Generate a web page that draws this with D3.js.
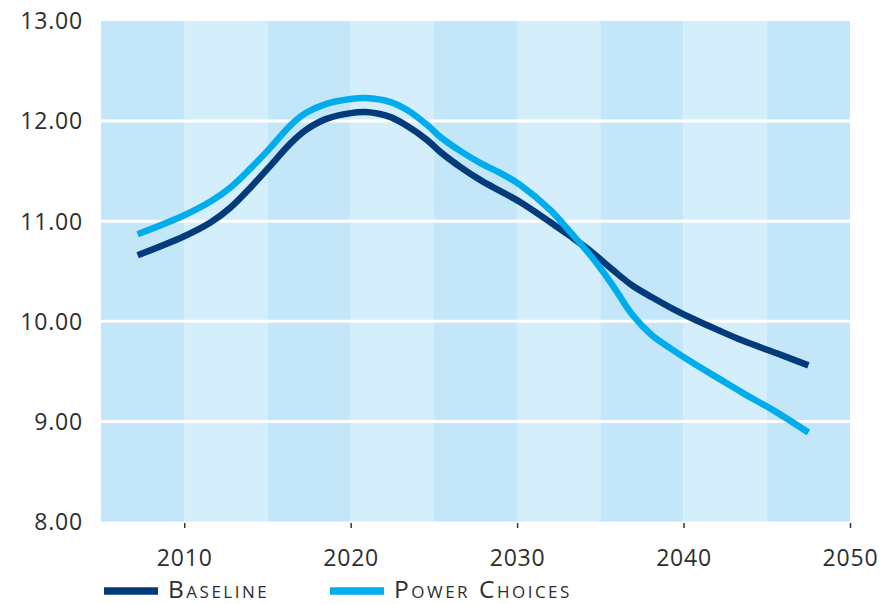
<!DOCTYPE html>
<html>
<head>
<meta charset="utf-8">
<script src="https://cdn.jsdelivr.net/npm/d3@7"></script>
<style>
  html, body { margin: 0; padding: 0; background: #ffffff; }
  svg { display: block; }
  .tick-label { font-family: "Open Sans", sans-serif; font-size: 23px; fill: #2e2e2e; letter-spacing: 0.8px; }
  .legend-label { font-family: "Open Sans", sans-serif; font-size: 24.5px; fill: #2e2e2e; font-variant: small-caps; letter-spacing: 2.5px; }
</style>
</head>
<body>
<svg id="chart" width="895" height="604"></svg>
<script>
// Sampled years along the curves
const years = [2007.2, 2010.0, 2011.6, 2012.8, 2014.0, 2015.1, 2016.4, 2017.3, 2018.5, 2020.0,
               2020.9, 2022.4, 2023.4, 2024.6, 2025.4, 2026.6, 2027.8, 2029.0, 2030.2, 2032.0,
               2033.2, 2034.5, 2035.7, 2036.9, 2038.1, 2039.3, 2040.5, 2042.1, 2043.5, 2045.6, 2047.5];

const baseline = [10.66, 10.85, 10.99, 11.14, 11.34, 11.54, 11.78, 11.91, 12.02, 12.08,
                  12.09, 12.04, 11.95, 11.81, 11.69, 11.54, 11.41, 11.30, 11.19, 10.99,
                  10.85, 10.69, 10.52, 10.36, 10.24, 10.13, 10.03, 9.91, 9.81, 9.68, 9.56];

const powerChoices = [10.87, 11.06, 11.20, 11.34, 11.53, 11.72, 11.96, 12.08, 12.17, 12.22,
                      12.23, 12.19, 12.11, 11.96, 11.84, 11.70, 11.58, 11.48, 11.36, 11.11,
                      10.89, 10.64, 10.37, 10.07, 9.86, 9.72, 9.59, 9.43, 9.29, 9.09, 8.89];

const seriesNames = ["Baseline", "Power Choices"];
const seriesColors = ["#013b7a", "#00adec"];

const xTicks = [2010, 2020, 2030, 2040, 2050];
const yTicks = [8, 9, 10, 11, 12, 13];
const bandEdges = [2005, 2010, 2015, 2020, 2025, 2030, 2035, 2040, 2045, 2050];

const svg = d3.select("#chart");

const x = d3.scaleLinear().domain([2005, 2050]).range([101, 850]);
const y = d3.scaleLinear().domain([8, 13]).range([521.5, 21]);

// Alternating five-year background bands
const bands = d3.pairs(bandEdges);
svg.append("g").selectAll("rect")
  .data(bands)
  .join("rect")
  .attr("x", d => x(d[0]))
  .attr("y", y(13))
  .attr("width", d => x(d[1]) - x(d[0]))
  .attr("height", y(8) - y(13))
  .attr("fill", (d, i) => i % 2 === 0 ? "#c4e6f9" : "#d4eefb");

// White horizontal gridlines
svg.append("g").selectAll("line")
  .data(yTicks.filter(v => v > 8 && v < 13))
  .join("line")
  .attr("x1", x(2005))
  .attr("x2", x(2050))
  .attr("y1", d => y(d))
  .attr("y2", d => y(d))
  .attr("stroke", "#ffffff")
  .attr("stroke-width", 3);

// Y axis labels
const yAxis = d3.axisLeft(y).tickValues(yTicks).tickSize(0).tickPadding(0)
  .tickFormat(d3.format(".2f"));
const gy = svg.append("g").attr("transform", "translate(83,0)").call(yAxis);
gy.select(".domain").remove();
gy.selectAll("text")
  .attr("class", "tick-label")
  .attr("x", 0)
  .attr("dy", "0.34em")
  .attr("text-anchor", "end")
  .attr("font-family", null).attr("font-size", null).attr("fill", null);

// X axis ticks and labels
const xAxis = d3.axisBottom(x).tickValues(xTicks).tickSize(5).tickPadding(0)
  .tickFormat(d3.format("d"));
const gx = svg.append("g").attr("transform", `translate(0,${y(8) + 1.5})`).call(xAxis);
gx.select(".domain").remove();
gx.selectAll(".tick line").attr("stroke", "#333333").attr("stroke-width", 1.5);
gx.selectAll("text")
  .attr("class", "tick-label")
  .attr("y", 42.5)
  .attr("dy", null)
  .attr("font-family", null).attr("font-size", null).attr("fill", null);

// Series lines
const line = d3.line()
  .x(d => x(d[0]))
  .y(d => y(d[1]))
  .curve(d3.curveCatmullRom.alpha(0.5));

const seriesData = [baseline, powerChoices].map(vals => years.map((yr, i) => [yr, vals[i]]));

svg.append("g").selectAll("path")
  .data(seriesData)
  .join("path")
  .attr("d", line)
  .attr("fill", "none")
  .attr("stroke", (d, i) => seriesColors[i])
  .attr("stroke-width", 6.5)
  .attr("stroke-linejoin", "round");

// Legend
const legendX = [104, 330];
const legend = svg.append("g").selectAll("g")
  .data(seriesNames)
  .join("g")
  .attr("transform", (d, i) => `translate(${legendX[i]},591)`);
legend.append("line")
  .attr("x1", 0).attr("x2", 54)
  .attr("y1", 0).attr("y2", 0)
  .attr("stroke", (d, i) => seriesColors[i])
  .attr("stroke-width", 7.5);
legend.append("text")
  .attr("class", "legend-label")
  .attr("x", 64)
  .attr("y", 6.5)
  .text(d => d);
</script>
</body>
</html>
